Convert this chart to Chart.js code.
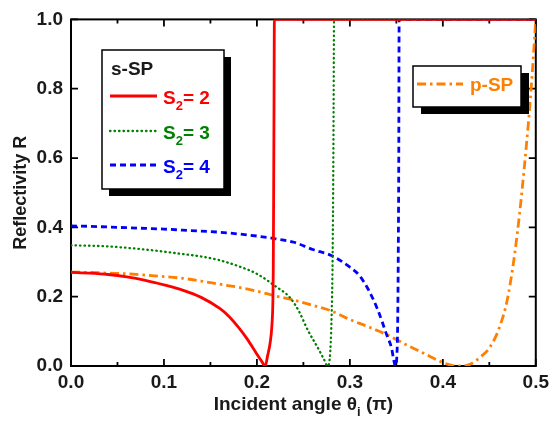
<!DOCTYPE html>
<html><head><meta charset="utf-8">
<script src="https://cdn.jsdelivr.net/npm/chart.js@4/dist/chart.umd.min.js"></script>
<style>html,body{margin:0;padding:0;background:#fff;}</style>
</head><body>
<canvas id="c" width="554" height="424"></canvas>
<script>
// ---- data ----
const xTicks = [0, 0.1, 0.2, 0.3, 0.4, 0.5];
const xMinorTicks = [0.05, 0.15, 0.25, 0.35, 0.45];
const yTicks = [0, 0.2, 0.4, 0.6, 0.8, 1.0];
const seriesNames = ['S2= 2', 'S2= 3', 'S2= 4', 'p-SP'];
const s2Values = ['2', '3', '4'];

const redX = [0,0.02,0.04,0.06,0.08,0.10,0.12,0.14,0.16,0.17,0.18,0.19,0.20,0.205,0.209,0.2115,0.2144,0.2162,0.2172,0.2176,0.218,0.2184,0.2188,0.5];
const redY = [0.270,0.268,0.264,0.257,0.247,0.234,0.219,0.198,0.166,0.143,0.112,0.076,0.034,0.014,0.0,0.03,0.07,0.12,0.19,0.28,0.5,0.75,1.0,1.0];

const greenX = [0,0.02,0.04,0.06,0.08,0.10,0.12,0.14,0.16,0.18,0.20,0.22,0.235,0.245,0.255,0.265,0.272,0.276,0.2785,0.2803,0.2813,0.282,0.2825,0.283,0.5];
const greenY = [0.348,0.347,0.345,0.341,0.336,0.330,0.323,0.316,0.305,0.288,0.266,0.230,0.199,0.159,0.102,0.055,0.02,0.0,0.026,0.14,0.28,0.5,0.75,1.0,1.0];

const blueX = [0,0.02,0.04,0.06,0.08,0.10,0.12,0.14,0.16,0.18,0.20,0.22,0.24,0.26,0.28,0.30,0.31,0.32,0.33,0.34,0.345,0.347,0.349,0.3508,0.3515,0.3522,0.3526,0.353,0.5];
const blueY = [0.404,0.403,0.401,0.399,0.397,0.395,0.392,0.389,0.386,0.381,0.375,0.367,0.357,0.336,0.319,0.285,0.262,0.22,0.162,0.087,0.05,0.02,0.0,0.045,0.14,0.38,0.6,1.0,1.0];

const orangeX = [0,0.02,0.04,0.06,0.08,0.10,0.12,0.14,0.16,0.18,0.20,0.22,0.24,0.26,0.28,0.30,0.32,0.34,0.36,0.38,0.40,0.41,0.42,0.43,0.44,0.45,0.46,0.47,0.48,0.49,0.495,0.5];
const orangeY = [0.271,0.270,0.268,0.266,0.262,0.258,0.253,0.245,0.236,0.227,0.216,0.202,0.190,0.175,0.159,0.134,0.113,0.090,0.062,0.036,0.010,0.002,0.0,0.006,0.025,0.052,0.105,0.20,0.38,0.64,0.80,1.0];

const pts = (xs, ys) => xs.map((x, i) => ({x: x, y: ys[i]}));

const FONT = 'Liberation Sans, Arial, Helvetica, sans-serif';
const TXT = '#1a1a1a';

const styles = [
  {color:'#ff0000', width:2.8, dash:[], cap:'butt'},
  {color:'#008000', width:2.3, dash:[0.5,4], cap:'round'},
  {color:'#0000ff', width:2.8, dash:[6,4], cap:'butt'},
  {color:'#ff8000', width:2.8, dash:[9,4,2.5,4], cap:'butt'}
];
const seriesPts = [pts(redX, redY), pts(greenX, greenY), pts(blueX, blueY), pts(orangeX, orangeY)];

const datasets = seriesPts.map((d, i) => ({
  label: seriesNames[i],
  data: d,
  borderColor: styles[i].color,
  borderWidth: styles[i].width,
  borderDash: styles[i].dash,
  borderCapStyle: styles[i].cap,
  cubicInterpolationMode: 'monotone',
  pointRadius: 0,
  fill: false
}));

function drawSub(ctx, x, base, main, sub, rest, size) {
  ctx.font = 'bold ' + size + 'px ' + FONT;
  ctx.fillText(main, x, base);
  let w = ctx.measureText(main).width;
  ctx.font = 'bold ' + Math.round(size * 0.7) + 'px ' + FONT;
  ctx.fillText(sub, x + w, base + size * 0.3);
  w += ctx.measureText(sub).width;
  ctx.font = 'bold ' + size + 'px ' + FONT;
  ctx.fillText(rest, x + w, base);
}
function measureSub(ctx, main, sub, rest, size) {
  ctx.font = 'bold ' + size + 'px ' + FONT;
  let w = ctx.measureText(main).width + ctx.measureText(rest).width;
  ctx.font = 'bold ' + Math.round(size * 0.7) + 'px ' + FONT;
  return w + ctx.measureText(sub).width;
}
function box(ctx, x, y, w, h, dx, dy) {
  ctx.fillStyle = '#000';
  ctx.fillRect(x + dx, y + dy, w, h);
  ctx.fillStyle = '#fff';
  ctx.fillRect(x, y, w, h);
  ctx.strokeStyle = '#000';
  ctx.lineWidth = 1.5;
  ctx.strokeRect(x, y, w, h);
}
function sample(ctx, i, x1, x2, y) {
  ctx.save();
  ctx.strokeStyle = styles[i].color;
  ctx.lineWidth = styles[i].width;
  ctx.lineCap = styles[i].cap;
  ctx.setLineDash(styles[i].dash);
  ctx.beginPath(); ctx.moveTo(x1, y); ctx.lineTo(x2, y); ctx.stroke();
  ctx.restore();
}

const framePlugin = {
  id: 'frame',
  beforeDatasetsDraw(chart) {
    const {ctx, chartArea: a, scales: {x, y}} = chart;
    ctx.save();
    ctx.strokeStyle = '#000';
    ctx.lineWidth = 2;
    ctx.strokeRect(a.left, a.top, a.right - a.left, a.bottom - a.top);
    ctx.lineWidth = 1.8;
    ctx.beginPath();
    xTicks.forEach(v => { const p = x.getPixelForValue(v);
      ctx.moveTo(p, a.bottom); ctx.lineTo(p, a.bottom - 7);
      ctx.moveTo(p, a.top); ctx.lineTo(p, a.top + 7); });
    xMinorTicks.forEach(v => { const p = x.getPixelForValue(v);
      ctx.moveTo(p, a.bottom); ctx.lineTo(p, a.bottom - 4);
      ctx.moveTo(p, a.top); ctx.lineTo(p, a.top + 4); });
    yTicks.forEach(v => { const p = y.getPixelForValue(v);
      ctx.moveTo(a.left, p); ctx.lineTo(a.left + 7, p);
      ctx.moveTo(a.right, p); ctx.lineTo(a.right - 7, p); });
    ctx.stroke();
    ctx.restore();
  },
  afterDraw(chart) {
    const {ctx, chartArea: a} = chart;
    ctx.save();
    ctx.textBaseline = 'alphabetic';
    // axis titles
    ctx.fillStyle = TXT;
    ctx.font = 'bold 18px ' + FONT;
    ctx.save();
    ctx.translate(26, (a.top + a.bottom) / 2);
    ctx.rotate(-Math.PI / 2);
    ctx.textAlign = 'center';
    ctx.fillText('Reflectivity R', 0, 0);
    ctx.restore();
    ctx.textAlign = 'left';
    const tw = measureSub(ctx, 'Incident angle θ', 'i', ' (π)', 19);
    drawSub(ctx, (a.left + a.right) / 2 - tw / 2, 410, 'Incident angle θ', 'i', ' (π)', 19);

    // legend box 1 (s-SP)
    box(ctx, 102, 50, 122, 139, 7, 7);
    ctx.fillStyle = TXT;
    ctx.font = 'bold 19px ' + FONT;
    ctx.fillText('s-SP', 111, 75);
    const rows = [96, 131, 165];
    for (let i = 0; i < 3; i++) {
      sample(ctx, i, 110, 157, rows[i]);
      ctx.fillStyle = styles[i].color;
      drawSub(ctx, 163, rows[i] + 8, 'S', '2', '= ' + s2Values[i], 19);
    }
    // legend box 2 (p-SP)
    box(ctx, 413, 66, 108, 41, 8, 7);
    sample(ctx, 3, 417, 463, 84);
    ctx.fillStyle = styles[3].color;
    ctx.font = 'bold 19px ' + FONT;
    ctx.fillText(seriesNames[3], 470, 91);
    ctx.restore();
  }
};

new Chart(document.getElementById('c'), {
  type: 'line',
  data: {datasets: datasets},
  options: {
    responsive: false,
    animation: false,
    devicePixelRatio: 1,
    layout: {padding: {left: 0, right: 15, top: 13, bottom: 0}},
    plugins: {legend: {display: false}, tooltip: {enabled: false}},
    scales: {
      x: {
        type: 'linear', min: 0, max: 0.5,
        afterBuildTicks: s => { s.ticks = xTicks.map(v => ({value: v})); },
        afterFit: s => { s.height = 58; },
        ticks: {callback: v => v.toFixed(1), font: {family: FONT, size: 19, weight: 'bold'}, color: TXT, padding: 5, maxRotation: 0, autoSkip: false},
        grid: {display: false, drawTicks: false},
        border: {display: false}
      },
      y: {
        type: 'linear', min: 0, max: 1,
        afterBuildTicks: s => { s.ticks = yTicks.map(v => ({value: v})); },
        afterFit: s => { s.width = 71; },
        ticks: {callback: v => v.toFixed(1), font: {family: FONT, size: 19, weight: 'bold'}, color: TXT, padding: 8, autoSkip: false},
        grid: {display: false, drawTicks: false},
        border: {display: false}
      }
    }
  },
  plugins: [framePlugin]
});
</script>
</body></html>
